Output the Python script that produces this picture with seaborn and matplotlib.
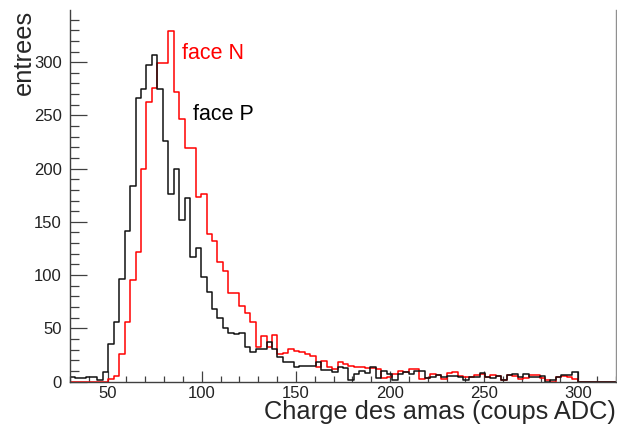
import numpy as np
import pandas as pd
import matplotlib
matplotlib.use("Agg")
import matplotlib.pyplot as plt
from matplotlib.ticker import MultipleLocator
import seaborn as sns

# histogram binning: 100 bins between 30 and 320 ADC counts
bin_range = (30, 320)
n_bins = 100

# entries per bin
face_p = [4, 3, 3, 4, 4, 1, 9, 35, 56, 96,
          141, 184, 266, 275, 297, 307, 275, 226, 176, 200,
          152, 172, 117, 125, 98, 84, 68, 60, 50, 46,
          45, 46, 32, 28, 31, 31, 37, 31, 23, 18,
          18, 14, 15, 15, 15, 18, 11, 11, 9, 14,
          13, 1, 7, 10, 8, 14, 3, 10, 7, 1,
          7, 9, 7, 10, 10, 3, 4, 6, 4, 5,
          5, 4, 1, 4, 4, 8, 4, 3, 5, 1,
          6, 7, 4, 7, 4, 4, 5, 0, 1, 4,
          6, 6, 9, 0, 0, 0, 0, 0, 0, 0]
face_n = [0, 0, 0, 0, 0, 0, 0, 2, 5, 26,
          56, 95, 122, 200, 263, 276, 299, 299, 329, 272,
          247, 219, 219, 173, 176, 139, 132, 112, 104, 83,
          83, 71, 64, 56, 32, 43, 32, 44, 26, 27,
          31, 29, 28, 26, 24, 14, 19, 14, 12, 18,
          16, 15, 14, 14, 13, 13, 12, 3, 4, 7,
          10, 9, 12, 12, 2, 3, 7, 6, 2, 8,
          9, 5, 4, 4, 6, 7, 4, 6, 5, 1,
          6, 5, 2, 3, 6, 6, 3, 1, 0, 4,
          5, 4, 2, 0, 0, 0, 0, 0, 0, 0]

width = (bin_range[1] - bin_range[0]) / n_bins
centers = bin_range[0] + width * (np.arange(n_bins) + 0.5)

df = pd.DataFrame({
    "charge": np.concatenate([centers, centers]),
    "entrees": face_n + face_p,
    "face": ["face N"] * n_bins + ["face P"] * n_bins,
})

sns.set_style("white")
plt.rcParams["font.family"] = ["Liberation Sans", "DejaVu Sans"]

fig = plt.figure(figsize=(6.17, 4.26), dpi=100)
ax = fig.add_axes([70 / 617, 44.5 / 426, 546 / 617, 371.5 / 426])

# red first so the black histogram sits on top
for face, color in [("face N", "#ff0000"), ("face P", "#111111")]:
    sns.histplot(data=df[df["face"] == face], x="charge", weights="entrees",
                 bins=n_bins, binrange=bin_range,
                 element="step", fill=False, color=color,
                 linewidth=1.1, ax=ax)

ax.set_xlim(*bin_range)
ax.set_ylim(0, 349)

ax.xaxis.set_major_locator(MultipleLocator(50))
ax.xaxis.set_minor_locator(MultipleLocator(10))
ax.yaxis.set_major_locator(MultipleLocator(50))
ax.yaxis.set_minor_locator(MultipleLocator(10))
ax.tick_params(axis="both", which="both", direction="in", colors="#404040",
               labelcolor="#222222", labelsize=12, width=0.9,
               bottom=True, left=True, top=False, right=False)
ax.tick_params(axis="x", which="major", length=7.7, pad=3.5)
ax.tick_params(axis="x", which="minor", length=4.1)
ax.tick_params(axis="y", which="major", length=11.9, pad=6)
ax.tick_params(axis="y", which="minor", length=6.2)

ax.spines["top"].set_visible(False)
for side in ["left", "bottom", "right"]:
    ax.spines[side].set_color("#404040")
    ax.spines[side].set_linewidth(1.0)
ax.spines["right"].set_color("#909090")

ax.set_xlabel("Charge des amas (coups ADC)", fontsize=18.3, loc="right")
ax.xaxis.set_label_coords(1.0, -0.082)
ax.xaxis.label.set_va("center")
ax.set_ylabel("entrees", fontsize=18.3, loc="top")
ax.yaxis.set_label_coords(-0.084, 1.0)
ax.yaxis.label.set_va("center")

ax.text(89.3, 302.7, "face N", color="#ff0000", fontsize=15.5, va="baseline")
ax.text(95.4, 245.7, "face P", color="black", fontsize=15.5, va="baseline")

fig.savefig("out.png", dpi=100)
